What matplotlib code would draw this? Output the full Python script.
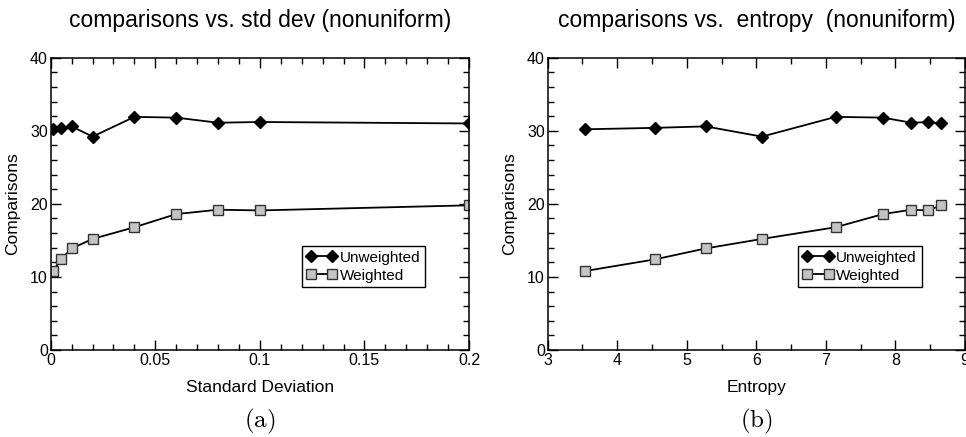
import matplotlib
matplotlib.use('Agg')
import matplotlib.pyplot as plt
from matplotlib.ticker import MultipleLocator, FuncFormatter

plt.rcParams['font.family'] = ['Liberation Sans', 'DejaVu Sans']
plt.rcParams['mathtext.fontset'] = 'cm'

# data
std_dev = [0.001, 0.005, 0.01, 0.02, 0.04, 0.06, 0.08, 0.1, 0.2]
entropy = [3.53, 4.54, 5.27, 6.08, 7.14, 7.82, 8.23, 8.47, 8.66]
unweighted = [30.2, 30.4, 30.6, 29.2, 31.9, 31.8, 31.1, 31.2, 31.0]
weighted = [10.8, 12.4, 13.9, 15.2, 16.8, 18.6, 19.2, 19.1, 19.8]


def short_num(v, pos):
    return ('%.4f' % v).rstrip('0').rstrip('.')


def draw_panel(ax, x, title, xlabel, caption, xlim, xmajor, xminor):
    ax.plot(x, unweighted, color='black', lw=1.3, marker='D', ms=6.5,
            mfc='black', mec='black', label='Unweighted')
    ax.plot(x, weighted, color='black', lw=1.3, marker='s', ms=7,
            mfc='#c4c4c4', mec='#333333', mew=1.0, label='Weighted')
    ax.set_xlim(*xlim)
    ax.set_ylim(0, 40)
    ax.xaxis.set_major_locator(MultipleLocator(xmajor))
    ax.xaxis.set_minor_locator(MultipleLocator(xminor))
    ax.xaxis.set_major_formatter(FuncFormatter(short_num))
    ax.yaxis.set_major_locator(MultipleLocator(10))
    ax.yaxis.set_minor_locator(MultipleLocator(2))
    ax.tick_params(which='both', direction='in', top=True, right=True,
                   labelsize=11.5, pad=2)
    ax.tick_params(which='major', length=7, width=1)
    ax.tick_params(which='minor', length=4, width=1)
    for sp in ax.spines.values():
        sp.set_linewidth(1.1)
    ax.set_title(title, fontsize=16.5, pad=22)
    ax.set_xlabel(xlabel, fontsize=12.5, labelpad=9)
    ax.set_ylabel('Comparisons', fontsize=12.5, labelpad=7)
    leg = ax.legend(loc='lower left', bbox_to_anchor=(0.6, 0.215), numpoints=2,
                    fancybox=False, edgecolor='black', framealpha=1,
                    fontsize=11, handlelength=2.0, handletextpad=0.2,
                    borderpad=0.3, labelspacing=0.25, borderaxespad=0)
    leg.get_frame().set_linewidth(1.0)
    ax.text(0.5, -0.245, caption, transform=ax.transAxes, ha='center',
            va='center', fontsize=18)


fig = plt.figure(figsize=(9.66, 4.37), dpi=100)
ax1 = fig.add_axes([0.0525, 0.199, 0.433, 0.669])
ax2 = fig.add_axes([0.567, 0.199, 0.432, 0.669])

draw_panel(ax1, std_dev, 'comparisons vs. std dev (nonuniform)',
           'Standard Deviation', r'$\mathrm{(a)}$', (0, 0.2), 0.05, 0.01)
draw_panel(ax2, entropy, 'comparisons vs.  entropy  (nonuniform)',
           'Entropy', r'$\mathrm{(b)}$', (3, 9), 1, 0.5)

fig.savefig('out.png', dpi=100)
